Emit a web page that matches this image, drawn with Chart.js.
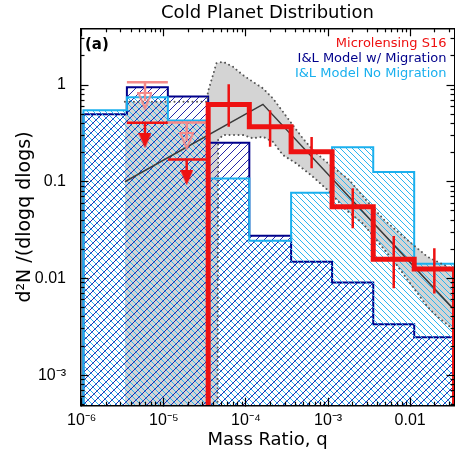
<!DOCTYPE html>
<html><head><meta charset="utf-8">
<script src="https://cdn.jsdelivr.net/npm/chart.js@4.4.1/dist/chart.umd.min.js"></script>
<style>html,body{margin:0;padding:0;background:#fff;}canvas{display:block;}</style>
</head><body>
<canvas id="c" width="455" height="453" style="width:455px;height:453px"></canvas>
<script>
// ---------------- data ----------------
const FLOOR = 1e-5;                 // "zero" level, below the visible y range
const X_MIN = 9.67e-7, X_MAX = 3.467e-2;
const Y_MIN = 4.83e-4, Y_MAX = 3.86;

const xMajor = [1e-6, 1e-5, 1e-4, 1e-3, 1e-2];
const xMajorLabels = ['10⁻⁶', '10⁻⁵', '10⁻⁴', '10⁻³', '0.01'];
const yMajor = [1e-3, 1e-2, 1e-1, 1];
const yMajorLabels = ['10⁻³', '0.01', '0.1', '1'];

// histogram bin edges in q
const binEdges = [1.05e-6, 3.55e-6, 1.12e-5, 3.47e-5, 1.10e-4, 3.55e-4, 1.12e-3, 3.55e-3, 1.12e-2, 3.467e-2];
const withMigration = [0.50, 0.95, 0.76, 0.253, 0.0276, 0.0149, 0.0091, 0.00335, 0.00246];
const noMigration   = [0.55, 0.746, 0.43, 0.108, 0.0245, 0.077, 0.227, 0.126, 0.0142];

// Microlensing S16
const s16Edges  = [3.47e-5, 1.10e-4, 3.55e-4, 1.12e-3, 3.55e-3, 1.12e-2, 3.467e-2];
const s16Values = [0.63, 0.37, 0.204, 0.055, 0.0158, 0.0125];
const s16ErrQ    = [6.17e-5, 1.97e-4, 6.31e-4, 2.0e-3, 6.31e-3, 1.97e-2];
const s16ErrLow  = [0.37, 0.23, 0.138, 0.033, 0.0079, 0.0070];
const s16ErrHigh = [1.02, 0.55, 0.29, 0.0855, 0.0275, 0.0205];

// upper limits
const limitLeft   = [3.55e-6, 1.12e-5];
const limitRight  = [1.12e-5, 3.47e-5];
const limitArrowQ = [5.9e-6, 1.9e-5];
const redLimit      = [0.407, 0.17];
const redArrowHead  = [0.265, 0.110];
const pinkLimit     = [1.07, 0.41];
const pinkArrowHead = [0.684, 0.264];

// best-fit broken power law and its uncertainty band
const fitQ = [3.357e-6, 1.61e-4, 3.467e-2];
const fitY = [0.1, 0.631, 0.0047];
const bandUpperQ = [3.357e-6, 3.35e-5, 3.45e-5, 3.97e-5, 4.365e-5, 5.26e-5, 6.95e-5, 9.20e-5, 1.216e-4, 1.61e-4, 2.128e-4, 2.818e-4, 3.724e-4, 4.93e-4, 6.52e-4, 9.48e-4, 1.82e-3, 2.90e-3, 4.84e-3, 9.29e-3, 1.626e-2, 3.13e-2, 3.467e-2];
const bandUpperY = [0.672, 0.672, 0.853, 1.268, 1.675, 1.742, 1.545, 1.268, 1.081, 0.925, 0.728, 0.530, 0.385, 0.281, 0.213, 0.161, 0.104, 0.0647, 0.0402, 0.0249, 0.01675, 0.0127, 0.0122];
const bandFillLeftQ = [3.357e-6, 1.12e-5, 1.12e-5, 3.35e-5];
const bandFillLeftY = [0.672, 0.672, 0.43, 0.43];
const bandLowerQ = [4.467e-5, 4.59e-5, 5.26e-5, 9.20e-5, 1.216e-4, 1.61e-4, 2.128e-4, 2.818e-4, 4.09e-4, 6.52e-4, 1.04e-3, 1.66e-3, 2.64e-3, 6.41e-3, 1.23e-2, 1.626e-2, 2.15e-2, 3.44e-2];
const bandLowerY = [FLOOR, 0.27, 0.304, 0.304, 0.281, 0.292, 0.259, 0.189, 0.155, 0.113, 0.0789, 0.0509, 0.0372, 0.0149, 0.00702, 0.00509, 0.00402, 0.00292];

const legendTexts  = ['Microlensing S16', 'I&L Model w/ Migration', 'I&L Model No Migration'];
const legendColors = ['#ee1111', '#00008b', '#1ab0ee'];

// ---------------- styling ----------------
const RED = '#ee1111', PINK = '#f48a8a', NAVY = '#00008b', CYAN = '#1ab0ee';
const canvas = document.getElementById('c');
const mainCtx = canvas.getContext('2d');

function hatch(color, s, dir, lw) {
  const t = document.createElement('canvas');
  t.width = s; t.height = s;
  const g = t.getContext('2d');
  g.strokeStyle = color; g.lineWidth = lw;
  g.beginPath();
  if (dir > 0) {
    g.moveTo(-1, s + 1); g.lineTo(s + 1, -1);
    g.moveTo(-1, 1); g.lineTo(1, -1);
    g.moveTo(s - 1, s + 1); g.lineTo(s + 1, s - 1);
  } else {
    g.moveTo(-1, -1); g.lineTo(s + 1, s + 1);
    g.moveTo(-1, s - 1); g.lineTo(1, s + 1);
    g.moveTo(s - 1, -1); g.lineTo(s + 1, 1);
  }
  g.stroke();
  return mainCtx.createPattern(t, 'repeat');
}
function arrowHead(color, w, h, hollow) {
  const t = document.createElement('canvas');
  t.width = w; t.height = h;
  const g = t.getContext('2d');
  g.beginPath();
  if (hollow) { g.moveTo(1, 1); g.lineTo(w - 1, 1); g.lineTo(w / 2, h - 1.5); g.closePath(); g.strokeStyle = color; g.lineWidth = 2; g.stroke(); }
  else { g.moveTo(0, 0); g.lineTo(w, 0); g.lineTo(w / 2, h); g.closePath(); g.fillStyle = color; g.fill(); }
  return t;
}

// ---------------- helpers building library data from arrays ----------------
const pts = (qs, ys) => qs.map((q, i) => ({x: q, y: ys[i]}));
function histPoints(edges, vals) {
  const p = [{x: edges[0], y: FLOOR}];
  vals.forEach((v, i) => p.push({x: edges[i], y: v}));
  p.push({x: edges[edges.length - 1], y: vals[vals.length - 1]});
  p.push({x: edges[edges.length - 1], y: FLOOR});
  return p;
}
function segs(list) { // list of [x1,y1,x2,y2]
  const p = [];
  list.forEach(s => { p.push({x: s[0], y: s[1]}, {x: s[2], y: s[3]}, {x: s[2], y: null}); });
  return p;
}
const errSegs = segs(s16ErrQ.map((q, i) => [q, s16ErrLow[i], q, s16ErrHigh[i]]));
const redLimSegs = segs(limitLeft.map((l, i) => [l, redLimit[i], limitRight[i], redLimit[i]])
  .concat(limitArrowQ.map((q, i) => [q, redLimit[i], q, redArrowHead[i]])));
const pinkLimSegs = segs(limitLeft.map((l, i) => [l, pinkLimit[i], limitRight[i], pinkLimit[i]])
  .concat(limitArrowQ.map((q, i) => [q, pinkLimit[i], q, pinkArrowHead[i]])));
const bandFillTop = pts(bandFillLeftQ, bandFillLeftY).concat(pts(bandUpperQ, bandUpperY).slice(2));

// ---------------- axes ----------------
function logTicks(min, max, kind) {
  const out = [];
  for (let d = Math.floor(Math.log10(min)); d <= Math.ceil(Math.log10(max)); d++) {
    for (let k = 1; k <= 9; k++) {
      if ((kind === 'major') !== (k === 1)) continue;
      const v = k * Math.pow(10, d);
      if (v >= min * 0.999999 && v <= max * 1.000001) out.push({value: v});
    }
  }
  return out;
}
function axis(o) {
  return {
    type: 'logarithmic', axis: o.axis, position: o.position, min: o.min, max: o.max, weight: o.weight,
    afterBuildTicks: s => { s.ticks = logTicks(o.min, o.max, o.kind); },
    afterFit: s => {
      if (o.axis === 'x') s.height = o.size; else s.width = o.size;
      s.paddingTop = 0; s.paddingBottom = 0; s.paddingLeft = 0; s.paddingRight = 0;
    },
    grid: {display: true, drawOnChartArea: false, drawTicks: true, tickLength: o.kind === 'major' ? -8 : -4,
           tickColor: '#000', tickWidth: 1.2, z: 1},
    border: {display: !!o.border, color: '#000', width: 1.5, z: 1},
    ticks: o.labels ? {display: true, autoSkip: false, maxRotation: 0, minRotation: 0, padding: o.pad,
                       font: {family: 'Liberation Sans', size: 16}, color: '#000',
                       callback: (v, i) => o.labels[i]} : {display: false},
    title: o.title || {display: false}
  };
}

const annot = {
  id: 'annot',
  afterDraw(chart) {
    const {ctx, chartArea} = chart;
    ctx.save();
    ctx.font = '13px "DejaVu Sans"';
    ctx.textAlign = 'right';
    ctx.textBaseline = 'alphabetic';
    legendTexts.forEach((t, i) => { ctx.fillStyle = legendColors[i]; ctx.fillText(t, chartArea.right - 8, chartArea.top + 19 + i * 15); });
    ctx.font = 'bold 15px "DejaVu Sans"';
    ctx.textAlign = 'left';
    ctx.fillStyle = '#000';
    ctx.fillText('(a)', chartArea.left + 4.5, chartArea.top + 21);
    ctx.restore();
  }
};

const line = (extra) => Object.assign({pointRadius: 0, fill: false, borderWidth: 2, tension: 0}, extra);

new Chart(canvas, {
  type: 'line',
  data: {datasets: [
    line({label: 'band', data: bandFillTop, fill: 'start', backgroundColor: '#d4d4d4', borderWidth: 0, order: 20}),
    line({label: 'bandLowCut', data: pts(bandLowerQ, bandLowerY), fill: 'start', backgroundColor: '#ffffff', borderWidth: 0, order: 19}),
    line({label: 'I&L Model w/ Migration', data: histPoints(binEdges, withMigration), stepped: true, fill: 'start',
          backgroundColor: hatch('#2626a8', 8, 1, 1), borderColor: NAVY, borderWidth: 2, order: 18}),
    line({label: 'I&L Model No Migration', data: histPoints(binEdges, noMigration), stepped: true, fill: 'start',
          backgroundColor: hatch('#2cb6f0', 6, -1, 1), borderColor: CYAN, borderWidth: 2, order: 17}),
    line({label: 'fit', data: pts(fitQ, fitY), borderColor: '#3a3a3a', borderWidth: 1.5, order: 16}),
    line({label: 'band upper', data: pts(bandUpperQ, bandUpperY), borderColor: '#555', borderWidth: 2,
          borderDash: [0.01, 4.5], borderCapStyle: 'round', order: 15}),
    line({label: 'band lower', data: pts(bandLowerQ, bandLowerY), borderColor: '#555', borderWidth: 2,
          borderDash: [0.01, 4.5], borderCapStyle: 'round', order: 15}),
    line({label: 'pink limits', data: pinkLimSegs, borderColor: PINK, borderWidth: 2.5, order: 10}),
    line({label: 'pink heads', data: pts(limitArrowQ, pinkArrowHead), showLine: false, pointRadius: 8,
          pointStyle: arrowHead(PINK, 15, 18, true), order: 9}),
    line({label: 'red limits', data: redLimSegs, borderColor: RED, borderWidth: 2.5, order: 5}),
    line({label: 'red heads', data: pts(limitArrowQ, redArrowHead), showLine: false, pointRadius: 8,
          pointStyle: arrowHead(RED, 13, 15, false), order: 4}),
    line({label: 'Microlensing S16', data: histPoints(s16Edges, s16Values), stepped: true, borderColor: RED, borderWidth: 5, order: 3}),
    line({label: 'S16 errors', data: errSegs, borderColor: RED, borderWidth: 2.5, order: 2})
  ]},
  options: {
    responsive: false, animation: false, events: [],
    layout: {autoPadding: false, padding: {left: 0, right: 0.5, top: 0, bottom: 0}},
    elements: {point: {radius: 0, hoverRadius: 0}},
    plugins: {
      legend: {display: false}, tooltip: {enabled: false},
      title: {display: true, fullSize: false, text: 'Cold Planet Distribution', color: '#000',
              font: {family: 'DejaVu Sans', size: 18, weight: 'normal'}, padding: {top: 2.9, bottom: 3.8}}
    },
    scales: {
      x:   axis({axis: 'x', position: 'bottom', min: X_MIN, max: X_MAX, kind: 'major', size: 47.3, weight: 10, border: true,
                 labels: xMajorLabels, pad: 13.7,
                 title: {display: true, text: 'Mass Ratio, q', color: '#000', font: {family: 'DejaVu Sans', size: 18}, padding: {top: 0, bottom: 1.5}}}),
      xm:  axis({axis: 'x', position: 'bottom', min: X_MIN, max: X_MAX, kind: 'minor', size: 0, weight: 0}),
      xt:  axis({axis: 'x', position: 'top', min: X_MIN, max: X_MAX, kind: 'major', size: 0, weight: 10, border: true}),
      xtm: axis({axis: 'x', position: 'top', min: X_MIN, max: X_MAX, kind: 'minor', size: 0, weight: 0}),
      y:   axis({axis: 'y', position: 'left', min: Y_MIN, max: Y_MAX, kind: 'major', size: 80.5, weight: 10, border: true,
                 labels: yMajorLabels, pad: 22.5,
                 title: {display: true, text: 'd²N /(dlogq dlogs)', color: '#000', font: {family: 'DejaVu Sans', size: 19}, padding: {top: 14, bottom: 0}}}),
      ym:  axis({axis: 'y', position: 'left', min: Y_MIN, max: Y_MAX, kind: 'minor', size: 0, weight: 0}),
      yr:  axis({axis: 'y', position: 'right', min: Y_MIN, max: Y_MAX, kind: 'major', size: 0, weight: 10, border: true}),
      yrm: axis({axis: 'y', position: 'right', min: Y_MIN, max: Y_MAX, kind: 'minor', size: 0, weight: 0})
    }
  },
  plugins: [annot]
});
</script>
</body></html>
